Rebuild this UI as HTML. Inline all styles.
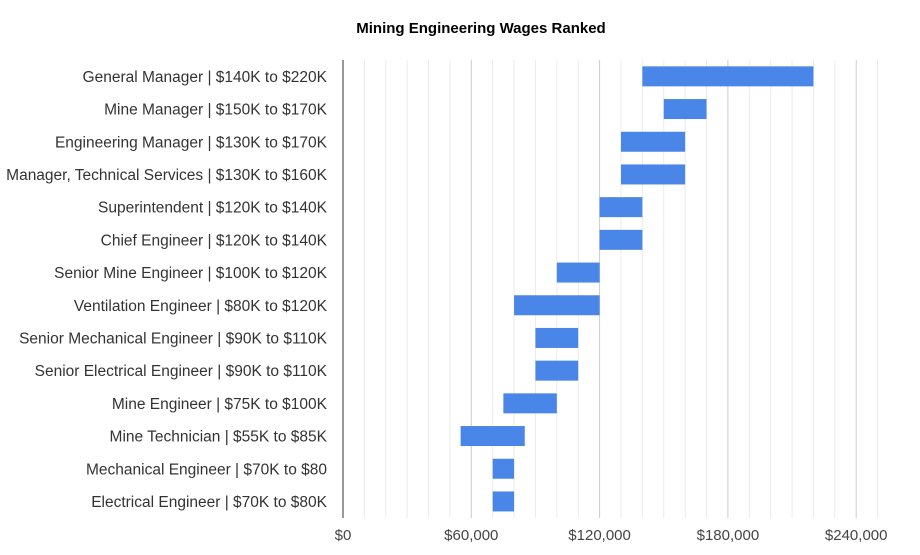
<!DOCTYPE html>
<html><head><meta charset="utf-8"><style>
body{margin:0;background:#fff;font-family:"Liberation Sans",Arial,sans-serif}
svg text{font-family:"Liberation Sans",Arial,sans-serif}
</style></head><body>
<svg id="chart" width="920" height="550">
<text x="481" y="33" text-anchor="middle" font-size="15" font-weight="bold" fill="#000">Mining Engineering Wages Ranked</text>
<g id="grid"></g><g id="bars"></g><g id="labels"></g><g id="ticks"></g>
</svg>
<script>
const categories=["General Manager | $140K to $220K","Mine Manager | $150K to $170K","Engineering Manager | $130K to $170K","Manager, Technical Services | $130K to $160K","Superintendent | $120K to $140K","Chief Engineer | $120K to $140K","Senior Mine Engineer | $100K to $120K","Ventilation Engineer | $80K to $120K","Senior Mechanical Engineer | $90K to $110K","Senior Electrical Engineer | $90K to $110K","Mine Engineer | $75K to $100K","Mine Technician | $55K to $85K","Mechanical Engineer | $70K to $80","Electrical Engineer | $70K to $80K"];
const lowValues=[140000,150000,130000,130000,120000,120000,100000,80000,90000,90000,75000,55000,70000,70000];
const highValues=[220000,170000,160000,160000,140000,140000,120000,120000,110000,110000,100000,85000,80000,80000];
const tickValues=[0,60000,120000,180000,240000];
const tickLabels=["$0","$60,000","$120,000","$180,000","$240,000"];
const NS="http://www.w3.org/2000/svg";
const x0=343,pxPer=128.3/60000,plotTop=60,rowH=32.7,barH=20;
const xs=v=>x0+v*pxPer;
const ys=i=>plotTop+rowH*(i+0.5);
function mk(t,a,p){const e=document.createElementNS(NS,t);for(const k in a)e.setAttribute(k,a[k]);p.appendChild(e);return e;}
const grid=document.getElementById('grid');
for(let v=0;v<=250000;v+=10000){
 const l=mk('line',{x1:xs(v),x2:xs(v),y1:plotTop,y2:518,stroke:v%60000===0?(v===0?'#333':'#ccc'):'#ebebeb','stroke-width':1},grid);
 
 
}
const bars=document.getElementById('bars'),labels=document.getElementById('labels');
categories.forEach((c,i)=>{
 const r=mk('rect',{x:xs(lowValues[i]),y:ys(i)-barH/2,width:xs(highValues[i])-xs(lowValues[i]),height:barH,fill:'#4a86e8'},bars);
 
 
 const t=mk('text',{x:327,y:ys(i)+5.5,'text-anchor':'end','font-size':15.5,fill:'#333'},labels);
 t.textContent=c;
 
 
});
const ticks=document.getElementById('ticks');
tickValues.forEach((v,i)=>{
 const t=mk('text',{x:xs(v),y:540,'text-anchor':'middle','font-size':15,fill:'#444'},ticks);
 t.textContent=tickLabels[i];
 
 
});
</script>
</body></html>
